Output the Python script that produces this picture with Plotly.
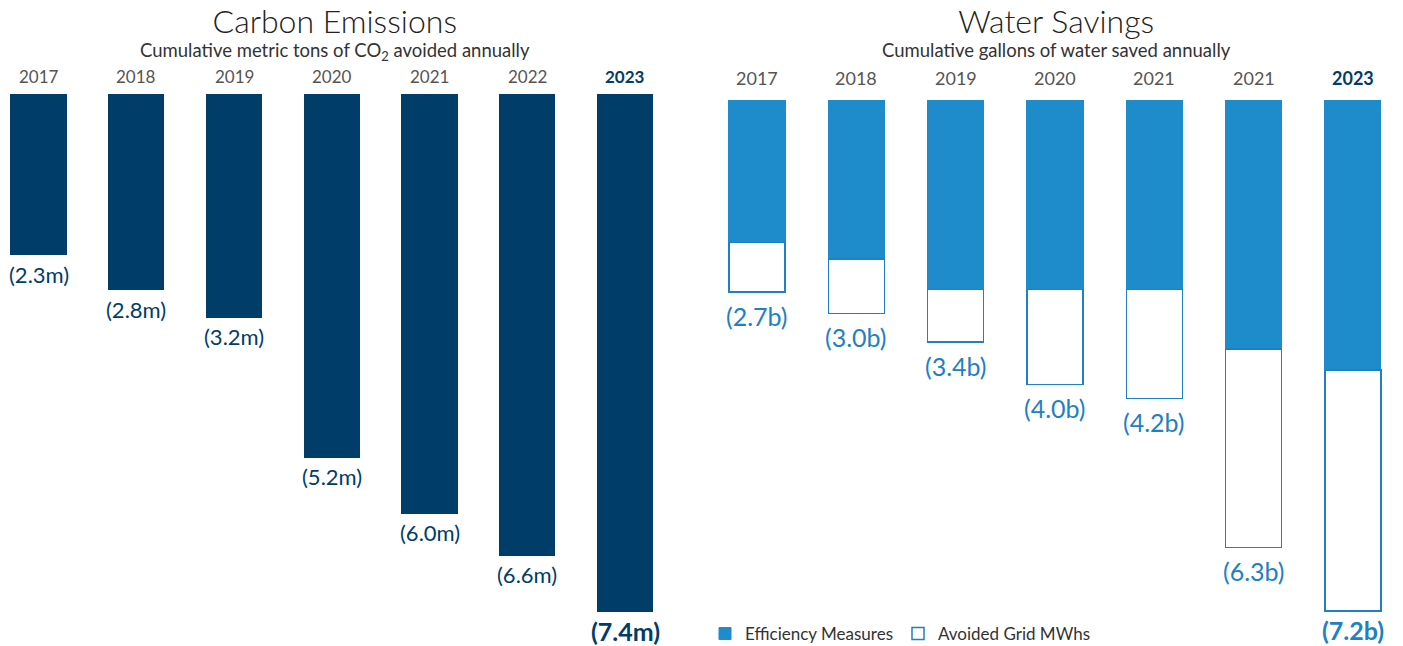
import plotly.graph_objects as go

# ---- data ----
carbon_years = ["2017", "2018", "2019", "2020", "2021", "2022", "2023"]
carbon_values = [2.3, 2.8, 3.2, 5.2, 6.0, 6.6, 7.4]
carbon_labels = ["(2.3m)", "(2.8m)", "(3.2m)", "(5.2m)", "(6.0m)", "(6.6m)", "(7.4m)"]

water_years = ["2017", "2018", "2019", "2020", "2021", "2021", "2023"]
water_efficiency = [2.0, 2.23, 2.66, 2.66, 2.66, 3.5, 3.8]
water_avoided = [0.7, 0.77, 0.74, 1.34, 1.54, 2.8, 3.4]
water_totals = [2.7, 3.0, 3.4, 4.0, 4.2, 6.3, 7.2]
water_labels = ["(2.7b)", "(3.0b)", "(3.4b)", "(4.0b)", "(4.2b)", "(6.3b)", "(7.2b)"]

NAVY = "#003d68"
BLUE = "#1e8bcb"
BLUE_LINE = "#1f80c2"
GRAY = "#555555"
FONT = "Lato"
W, H = 1403, 646

cx = list(range(len(carbon_years)))
wx = list(range(len(water_years)))

fig = go.Figure()
fig.add_trace(go.Bar(x=cx, y=carbon_values, xaxis="x", yaxis="y", width=0.573,
                     marker=dict(color=NAVY, line=dict(width=0)), showlegend=False,
                     hoverinfo="skip"))
fig.add_trace(go.Bar(x=wx, y=water_efficiency, xaxis="x2", yaxis="y2", width=0.564,
                     name="Efficiency Measures",
                     marker=dict(color=BLUE, line=dict(color=BLUE, width=1)),
                     hoverinfo="skip"))
fig.add_trace(go.Bar(x=wx, y=water_avoided, xaxis="x2", yaxis="y2", width=0.564,
                     name="Avoided Grid MWhs",
                     marker=dict(color="white", line=dict(color=BLUE_LINE, width=1.5)),
                     hoverinfo="skip"))

# axis scaling (pixels per unit, top offset)
c_ppu = 69.9
c_r0 = -94.3 / c_ppu
c_r1 = c_r0 + H / c_ppu
w_ppu = 70.9
w_r0 = -100.7 / w_ppu
w_r1 = w_r0 + H / w_ppu

c_dom = [0, 700 / W]
w_dom = [700 / W, 1]
c_xppu = 97.75
c_xr0 = -38.5 / c_xppu
c_xr1 = c_xr0 + 700 / c_xppu
w_xppu = 99.33
w_xr0 = -57 / w_xppu
w_xr1 = w_xr0 + 703 / w_xppu

axis_off = dict(showgrid=False, zeroline=False, showticklabels=False, showline=False, ticks="")

annotations = []
# titles (title + subtitle in one text block)
for cxp, title, sub in [(335, "Carbon Emissions", "Cumulative metric tons of CO<sub>2</sub> avoided annually"),
                        (1056, "Water Savings", "Cumulative gallons of water saved annually")]:
    text = (f"<span style='font-size:32px;font-weight:300;color:#222222'>{title}</span>"
            f"<br>{sub}")
    annotations.append(dict(x=cxp / W, y=1, xref="paper", yref="paper", text=text,
                            showarrow=False, xanchor="center", yanchor="top", yshift=1,
                            align="center",
                            font=dict(family=FONT, size=18.5, color="#333333")))

# year labels
for i, yr in enumerate(carbon_years):
    last = i == len(carbon_years) - 1
    annotations.append(dict(x=cx[i], y=1 - 76 / H, xref="x", yref="paper",
                            text=f"<b>{yr}</b>" if last else yr, showarrow=False,
                            xanchor="center", yanchor="middle",
                            font=dict(family=FONT, size=17, color=NAVY if last else GRAY)))
for i, yr in enumerate(water_years):
    last = i == len(water_years) - 1
    annotations.append(dict(x=wx[i], y=1 - 78 / H, xref="x2", yref="paper",
                            text=f"<b>{yr}</b>" if last else yr, showarrow=False,
                            xanchor="center", yanchor="middle",
                            font=dict(family=FONT, size=18, color=NAVY if last else GRAY)))

# value labels
for i, lab in enumerate(carbon_labels):
    last = i == len(carbon_labels) - 1
    annotations.append(dict(x=cx[i], y=carbon_values[i], xref="x", yref="y",
                            text=f"<b>{lab}</b>" if last else lab, showarrow=False,
                            xanchor="center", yanchor="middle", yshift=-19,
                            font=dict(family=FONT, size=25 if last else 22, color=NAVY)))
for i, lab in enumerate(water_labels):
    last = i == len(water_labels) - 1
    annotations.append(dict(x=wx[i], y=water_totals[i], xref="x2", yref="y2",
                            text=f"<b>{lab}</b>" if last else lab, showarrow=False,
                            xanchor="center", yanchor="middle", yshift=-19 if last else -24,
                            font=dict(family=FONT, size=25, color=BLUE_LINE)))

fig.update_layout(
    width=W, height=H,
    margin=dict(l=0, r=0, t=0, b=0, autoexpand=False),
    paper_bgcolor="white", plot_bgcolor="white",
    barmode="stack",
    xaxis=dict(domain=c_dom, range=[c_xr0, c_xr1], anchor="y", **axis_off),
    yaxis=dict(domain=[0, 1], range=[c_r1, c_r0], anchor="x", **axis_off),
    xaxis2=dict(domain=w_dom, range=[w_xr0, w_xr1], anchor="y2", **axis_off),
    yaxis2=dict(domain=[0, 1], range=[w_r1, w_r0], anchor="x2", **axis_off),
    legend=dict(orientation="h", x=705 / W, y=1 - 634 / H, xanchor="left", yanchor="middle",
                font=dict(family=FONT, size=17, color="#333333"), bgcolor="rgba(0,0,0,0)",
                traceorder="normal", itemwidth=30),
    annotations=annotations,
    showlegend=True,
)

fig.write_html("out.html")
